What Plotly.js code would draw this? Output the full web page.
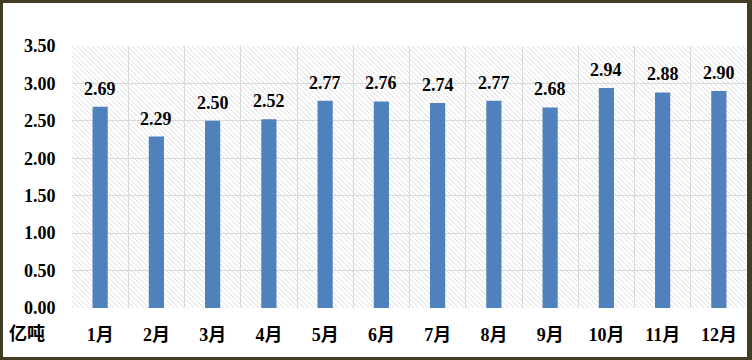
<!DOCTYPE html>
<html>
<head>
<meta charset="utf-8">
<script src="https://cdn.plot.ly/plotly-3.0.1.min.js"></script>
<style>
  html, body { margin: 0; padding: 0; }
  body { width: 752px; height: 360px; background: #403c26; position: relative; overflow: hidden; }
  #chart { position: absolute; left: 3px; top: 3px; width: 744px; height: 354px; background: #fff; }
</style>
</head>
<body>
<div id="chart"></div>
<script>
const months = ['1月','2月','3月','4月','5月','6月','7月','8月','9月','10月','11月','12月'];
const values = [2.69, 2.29, 2.50, 2.52, 2.77, 2.76, 2.74, 2.77, 2.68, 2.94, 2.88, 2.90];
const yTicks = [0, 0.5, 1, 1.5, 2, 2.5, 3, 3.5];
const unitLabel = '亿吨';

const FONT = "'Liberation Serif', 'Times New Roman', 'Noto Sans CJK SC', serif";

const hatchSvg =
  '<svg xmlns="http://www.w3.org/2000/svg" width="675" height="262" viewBox="0 0 675 262">' +
  '<defs><pattern id="h" width="5" height="5" patternUnits="userSpaceOnUse">' +
  '<path d="M0,0 L5,5 M-1,4 L1,6 M4,-1 L6,1" stroke="#d4d4d4" stroke-width="0.8"/>' +
  '</pattern></defs><rect width="675" height="262" fill="url(#h)"/></svg>';
const hatchSrc = 'data:image/svg+xml;base64,' + btoa(hatchSvg);

const trace = {
  type: 'bar',
  x: months,
  y: values,
  width: 0.27,
  marker: { color: '#4f81bd' },
  hoverinfo: 'skip'
};

const annotations = months.map((m, i) => ({
  x: m, y: values[i], xref: 'x', yref: 'y',
  text: values[i].toFixed(2),
  showarrow: false, yanchor: 'bottom', yshift: 6,
  font: { family: FONT, size: 18, color: '#000', weight: 'bold' }
}));
annotations.push({
  xref: 'paper', yref: 'paper', x: -0.066, y: -0.092, xanchor: 'center', yanchor: 'middle',
  text: unitLabel, showarrow: false,
  font: { family: "'Noto Sans CJK SC', sans-serif", size: 18, color: '#000', weight: 'bold' }
});

const layout = {
  width: 744, height: 354,
  margin: { l: 69, r: 0, t: 43, b: 49 },
  paper_bgcolor: '#ffffff',
  plot_bgcolor: '#ffffff',
  showlegend: false,
  font: { family: FONT, size: 18, color: '#000' },
  xaxis: {
    type: 'category',
    tickson: 'boundaries',
    showgrid: true, gridcolor: '#d9d9d9', gridwidth: 1,
    ticks: '', ticklabelstandoff: 14,
    tickfont: { family: FONT, size: 18, color: '#000', weight: 'bold' },
    showline: false, zeroline: false, fixedrange: true
  },
  yaxis: {
    range: [0, 3.5],
    tickvals: yTicks,
    tickformat: '.2f',
    showgrid: true, gridcolor: '#d9d9d9', gridwidth: 1,
    zeroline: false, showline: false,
    ticks: 'outside', ticklen: 12, tickcolor: 'rgba(0,0,0,0)',
    tickfont: { family: FONT, size: 18, color: '#000', weight: 'bold' },
    fixedrange: true
  },
  images: [{
    source: hatchSrc, xref: 'paper', yref: 'paper',
    x: 0, y: 1, sizex: 1, sizey: 1, xanchor: 'left', yanchor: 'top',
    sizing: 'stretch', layer: 'below'
  }],
  annotations: annotations
};

Plotly.newPlot('chart', [trace], layout, { displayModeBar: false, staticPlot: true });
</script>
</body>
</html>
